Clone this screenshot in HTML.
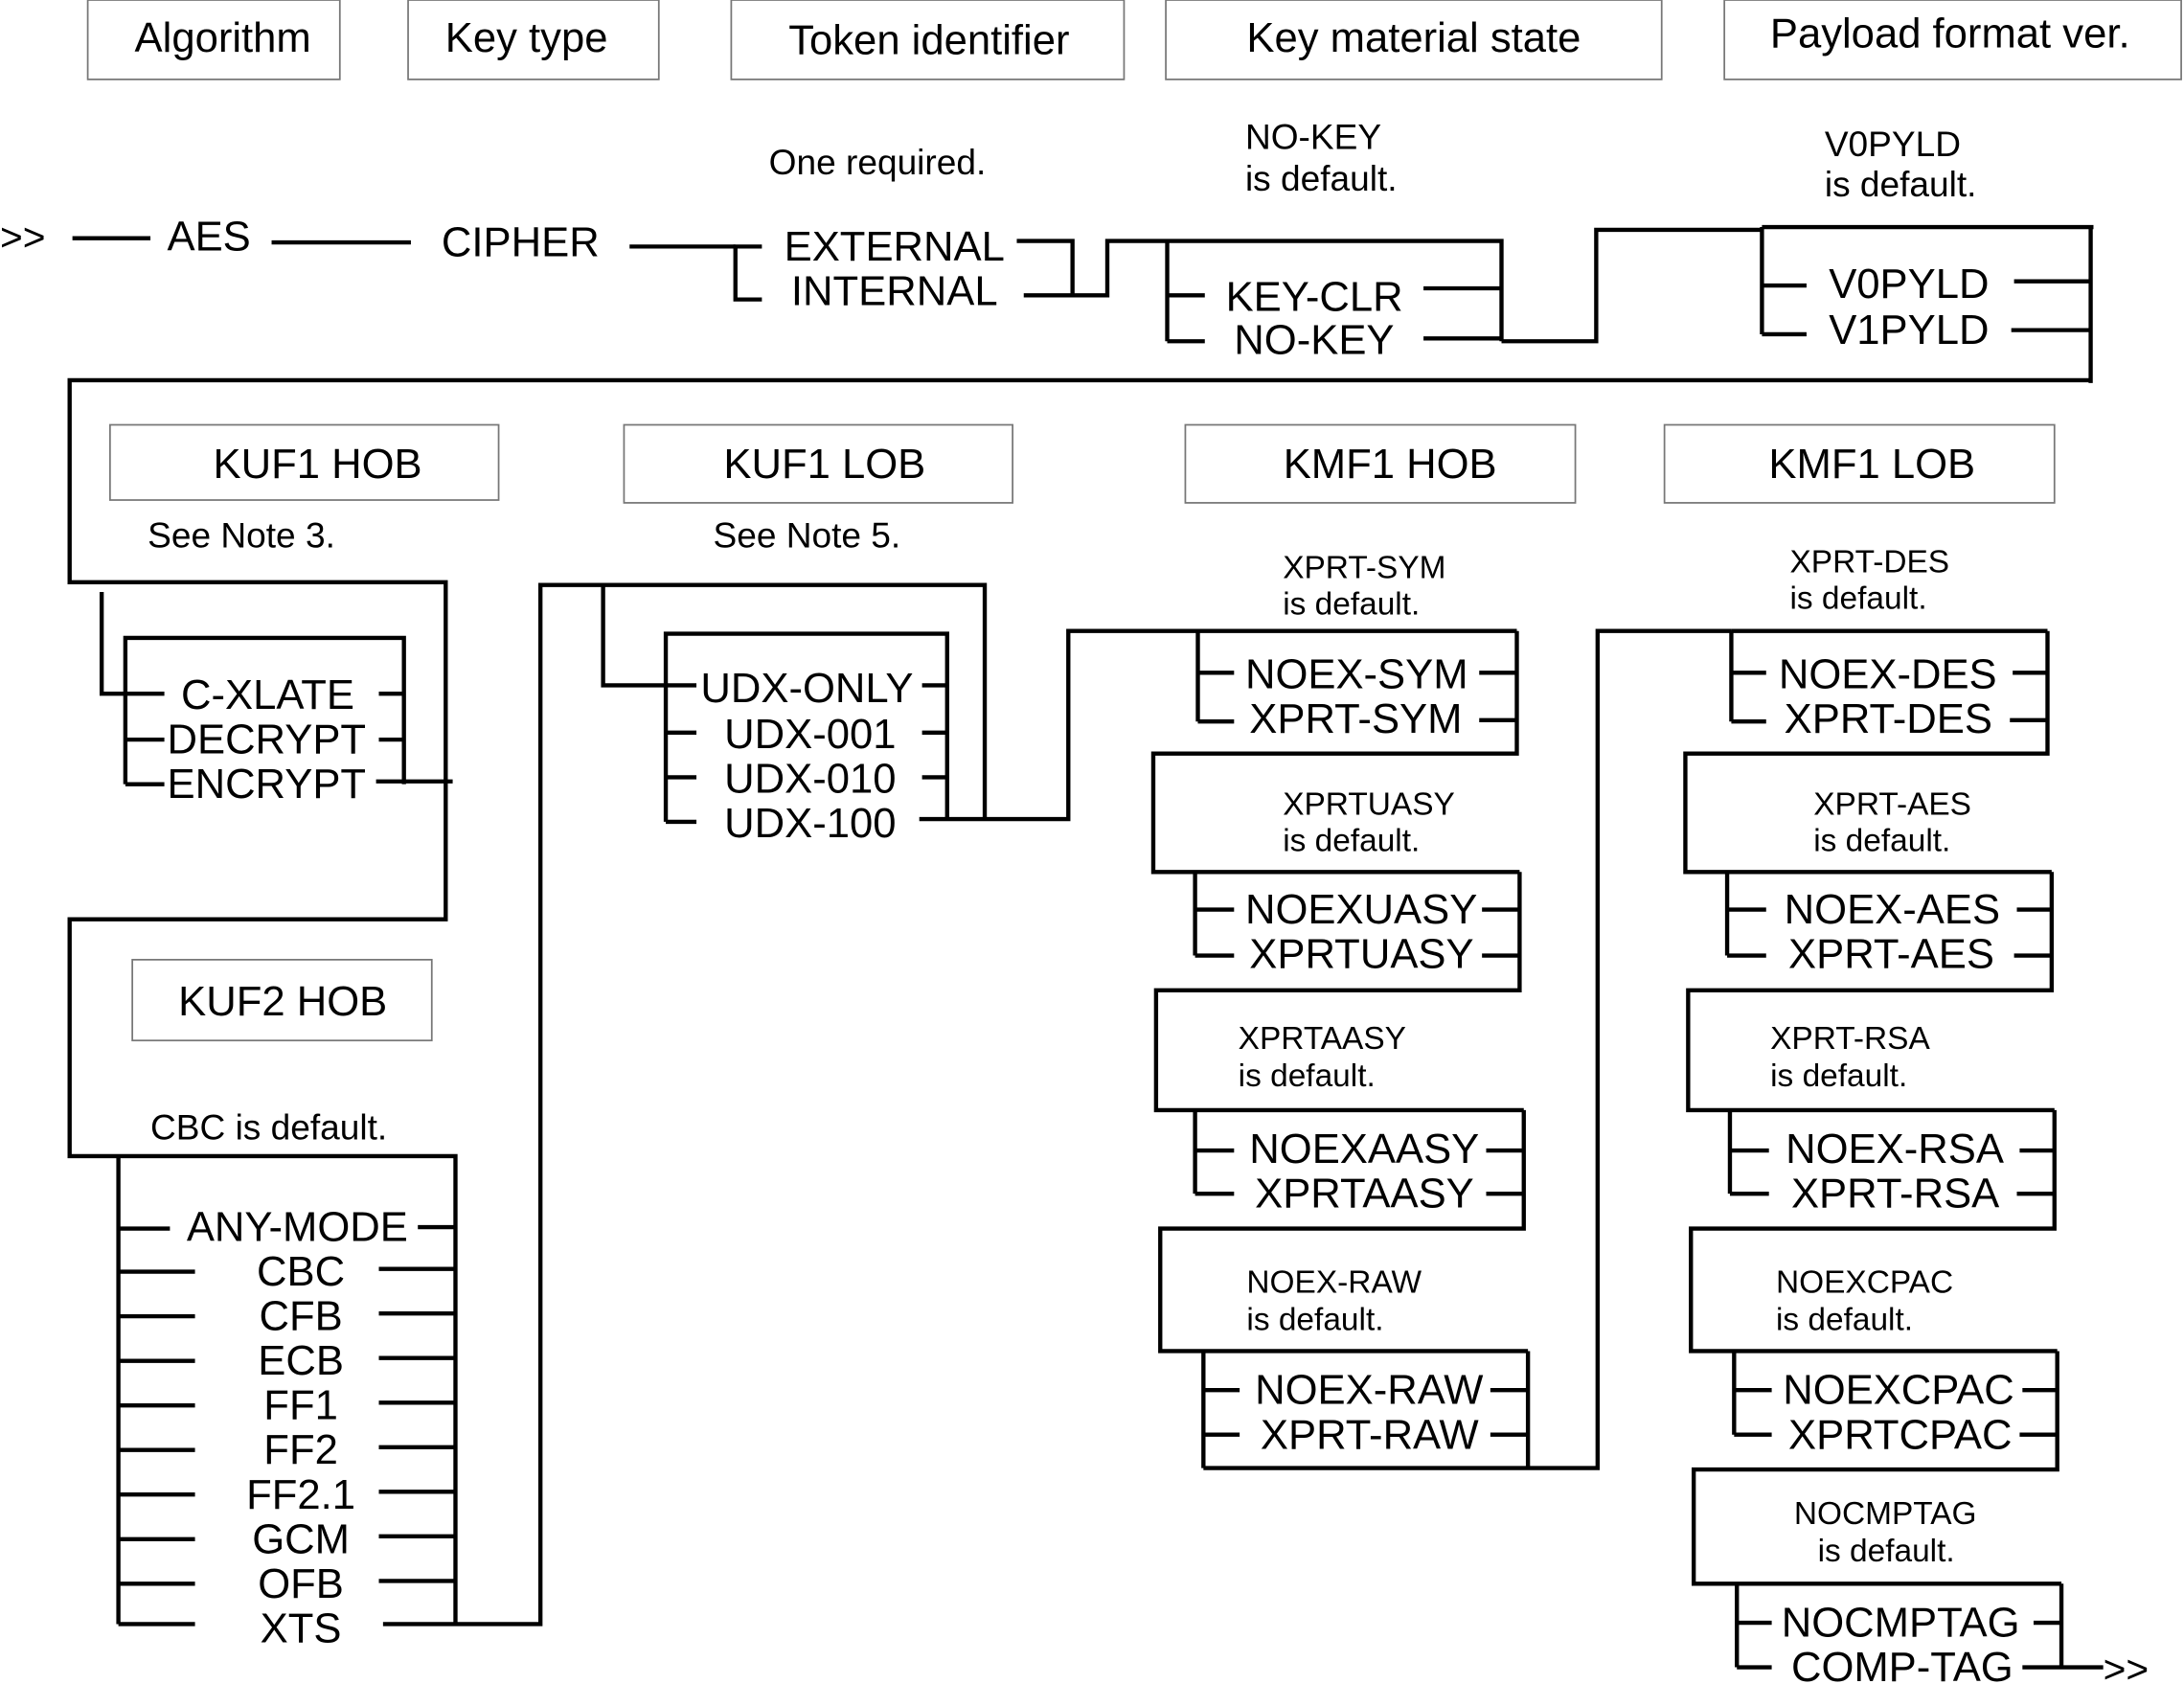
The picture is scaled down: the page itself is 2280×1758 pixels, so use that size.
<!DOCTYPE html>
<html><head><meta charset="utf-8"><style>
html,body{margin:0;padding:0;background:#fff;}
svg{display:block;}
text{font-family:"Liberation Sans",Arial,sans-serif;fill:#000;}
.b{font-size:30px}.h{font-size:30px}.n{font-size:25.5px}.s{font-size:23px}
</style></head><body>
<svg width="2280" height="1758" viewBox="0 0 1568 1209" preserveAspectRatio="none" xmlns="http://www.w3.org/2000/svg">
<g fill="none" stroke="#777" stroke-width="1.2">
<rect x="63" y="0" width="181" height="57"/>
<rect x="293" y="0" width="180" height="57"/>
<rect x="525" y="0" width="282" height="57"/>
<rect x="837" y="0" width="356" height="57"/>
<rect x="1238" y="0" width="328" height="57"/>
<rect x="79" y="305" width="279" height="54"/>
<rect x="448" y="305" width="279" height="56"/>
<rect x="851" y="305" width="280" height="56"/>
<rect x="1195" y="305" width="280" height="56"/>
<rect x="95" y="689" width="215" height="58"/>
</g>
<g class="h" text-anchor="middle">
<text x="160" y="37">Algorithm</text>
<text x="378" y="37">Key  type</text>
<text x="667" y="39">Token identifier</text>
<text x="1015" y="37">Key material state</text>
<text x="1400" y="34">Payload format ver.</text>
<text x="228" y="343">KUF1 HOB</text>
<text x="592" y="343">KUF1 LOB</text>
<text x="998" y="343">KMF1 HOB</text>
<text x="1344" y="343">KMF1 LOB</text>
<text x="203" y="729">KUF2 HOB</text>
</g>
<g class="n">
<text x="552" y="125">One required.</text>
<text x="894" y="107">NO-KEY</text><text x="894" y="137">is default.</text>
<text x="1310" y="112">V0PYLD</text><text x="1310" y="141">is default.</text>
<text x="106" y="393">See Note 3.</text>
<text x="512" y="393">See Note 5.</text>
<text x="108" y="818">CBC is default.</text>
</g>
<g class="s">
<text x="921" y="415">XPRT-SYM</text><text x="921" y="441">is default.</text>
<text x="921" y="585">XPRTUASY</text><text x="921" y="611">is default.</text>
<text x="889" y="753">XPRTAASY</text><text x="889" y="780">is default.</text>
<text x="895" y="928">NOEX-RAW</text><text x="895" y="955">is default.</text>
<text x="1285" y="411">XPRT-DES</text><text x="1285" y="437">is default.</text>
<text x="1302" y="585">XPRT-AES</text><text x="1302" y="611">is default.</text>
<text x="1271" y="753">XPRT-RSA</text><text x="1271" y="780">is default.</text>
<text x="1275" y="928">NOEXCPAC</text><text x="1275" y="955">is default.</text>
<text x="1288" y="1094">NOCMPTAG</text><text x="1305" y="1121">is default.</text>
</g>
<g class="b">
<text x="0" y="180" style="font-size:28px">&gt;&gt;</text>
<text x="120" y="180">AES</text>
<text x="317" y="184">CIPHER</text>
<text x="563" y="187">EXTERNAL</text>
<text x="568" y="219">INTERNAL</text>
<text x="880" y="223">KEY-CLR</text>
<text x="886" y="254">NO-KEY</text>
<text x="1313" y="214">V0PYLD</text>
<text x="1313" y="247">V1PYLD</text>
<text x="130" y="509">C-XLATE</text>
<text x="120" y="541">DECRYPT</text>
<text x="120" y="573">ENCRYPT</text>
<text x="503" y="504">UDX-ONLY</text>
<text x="520" y="537">UDX-001</text>
<text x="520" y="569">UDX-010</text>
<text x="520" y="601">UDX-100</text>
<text x="134" y="891">ANY-MODE</text>
<g text-anchor="middle">
<text x="216" y="923">CBC</text><text x="216" y="955">CFB</text><text x="216" y="987">ECB</text>
<text x="216" y="1019">FF1</text><text x="216" y="1051">FF2</text><text x="216" y="1083">FF2.1</text>
<text x="216" y="1115">GCM</text><text x="216" y="1147">OFB</text><text x="216" y="1179">XTS</text>
</g>
<text x="894" y="494">NOEX-SYM</text><text x="897" y="526">XPRT-SYM</text>
<text x="894" y="663">NOEXUASY</text><text x="897" y="695">XPRTUASY</text>
<text x="897" y="835">NOEXAASY</text><text x="901" y="867">XPRTAASY</text>
<text x="901" y="1008">NOEX-RAW</text><text x="905" y="1040">XPRT-RAW</text>
<text x="1277" y="494">NOEX-DES</text><text x="1281" y="526">XPRT-DES</text>
<text x="1281" y="663">NOEX-AES</text><text x="1284" y="695">XPRT-AES</text>
<text x="1282" y="835">NOEX-RSA</text><text x="1286" y="867">XPRT-RSA</text>
<text x="1280" y="1008">NOEXCPAC</text><text x="1284" y="1040">XPRTCPAC</text>
<text x="1279" y="1175">NOCMPTAG</text><text x="1286" y="1207">COMP-TAG</text>
<text x="1510" y="1208" style="font-size:28px">&gt;&gt;</text>
</g>
<g fill="none" stroke="#000" stroke-width="3">
<path d="M52 171H108M195 174H295M452 177H528"/>
<path d="M547 177H528V215H547"/>
<path d="M730 173H770V212H735M770 212H795V173H1078V245M838 173V245M838 212H865M838 245H865M1022 207H1078M1022 243H1078"/>
<path d="M1078 245H1146V165H1265M1265 163H1503M1265 163V240M1265 205H1297M1265 240H1297M1446 202H1501M1444 237H1501M1501 163V275"/>
<path d="M1501 273H50V418H320V660H50V830H327V1166"/>
<path d="M73 425V498H118M90 563V458H290V563M90 531H118M90 563H118M272 498H290M272 531H290M270 561H325"/>
<path d="M85 830V1166M85 882H122"/>
<path d="M85 913H140M85 945H140M85 977H140M85 1009H140M85 1041H140M85 1073H140M85 1105H140M85 1137H140M85 1166H140"/>
<path d="M300 881H327M272 911H327M272 943H327M272 975H327M272 1007H327M272 1039H327M272 1071H327M272 1103H327M272 1135H327M275 1166H388V420H707V588"/>
<path d="M433 420V492H500M478 590V455H680V588M478 526H500M478 558H500M478 590H500M662 492H680M662 526H680M662 558H680M660 588H767V453H1089"/>
<path d="M860 453V518M860 483H886M860 518H886M1062 483H1089M1062 517H1089M1089 453V541H828V626H1091"/>
<path d="M858 626V686M858 653H886M858 686H886M1064 653H1091M1064 686H1091M1091 626V711H830V797H1094"/>
<path d="M858 797V857M858 826H886M858 857H886M1067 826H1094M1067 857H1094M1094 797V882H833V970H1097"/>
<path d="M864 970V1054M864 998H890M864 1030H890M1070 998H1097M1070 1030H1097M1097 970V1054M864 1054H1147V453H1243"/>
<path d="M1243 453H1470M1243 453V518M1243 483H1268M1243 518H1268M1445 483H1470M1443 517H1470M1470 453V541H1210V626H1473"/>
<path d="M1240 626V686M1240 653H1268M1240 686H1268M1448 653H1473M1446 686H1473M1473 626V711H1212V797H1475"/>
<path d="M1242 797V857M1242 826H1270M1242 857H1270M1450 826H1475M1448 857H1475M1475 797V882H1214V970H1477"/>
<path d="M1245 970V1030M1245 998H1272M1245 1030H1272M1452 998H1477M1450 1030H1477M1477 970V1055H1216V1137H1480"/>
<path d="M1247 1137V1197M1247 1165H1272M1247 1197H1272M1460 1165H1480M1480 1137V1197M1452 1197H1510"/>
</g>
</svg>
</body></html>
